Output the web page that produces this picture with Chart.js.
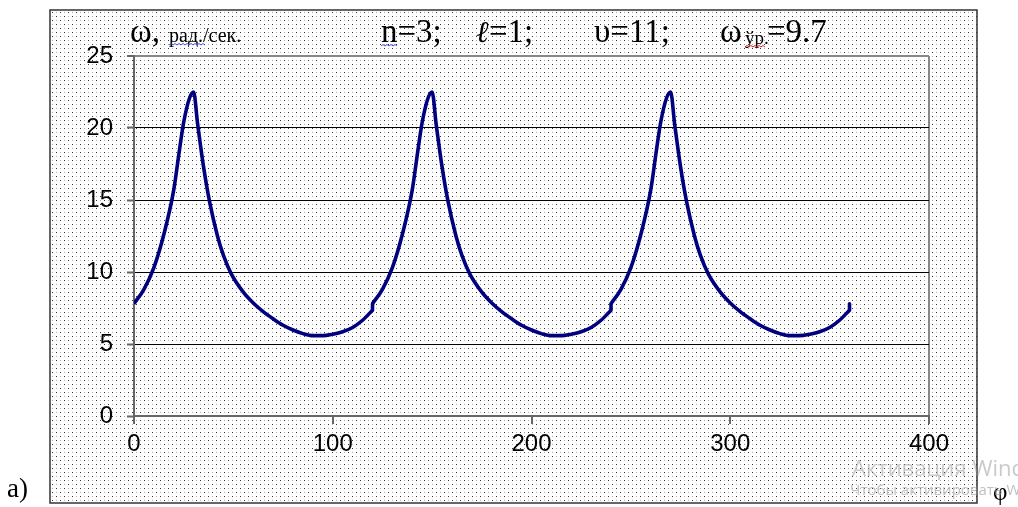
<!DOCTYPE html>
<html>
<head>
<meta charset="utf-8">
<script src="https://cdn.jsdelivr.net/npm/chart.js@4"></script>
<style>
  body { margin: 0; background: #fff; }
  #wrap { width: 1018px; height: 507px; position: relative; }
</style>
</head>
<body>
<div id="wrap"><canvas id="omegaChart"></canvas></div>
<script>
// angle of rotation, degrees (three identical 120-degree cycles)
const phi = [
  0, 5, 10, 15, 20, 23, 25, 28, 30, 32, 35, 38, 42, 45, 49, 55, 60, 65, 70, 75, 80, 85, 90, 95, 100, 105, 110, 115, 120,
  120, 125, 130, 135, 140, 143, 145, 148, 150, 152, 155, 158, 162, 165, 169, 175, 180, 185, 190, 195, 200, 205, 210, 215, 220, 225, 230, 235, 240,
  240, 245, 250, 255, 260, 263, 265, 268, 270, 272, 275, 278, 282, 285, 289, 295, 300, 305, 310, 315, 320, 325, 330, 335, 340, 345, 350, 355, 360,
  360
];
// angular velocity, rad/s
const omega = [
  7.8, 8.8, 10.3, 12.6, 15.7, 18.6, 20.4, 22.1, 22.5, 20.3, 17.3, 14.9, 12.5, 11.15, 9.85, 8.6, 7.85, 7.25, 6.75, 6.3, 5.97, 5.72, 5.58, 5.58, 5.68, 5.85, 6.15, 6.65, 7.35,
  7.8, 8.8, 10.3, 12.6, 15.7, 18.6, 20.4, 22.1, 22.5, 20.3, 17.3, 14.9, 12.5, 11.15, 9.85, 8.6, 7.85, 7.25, 6.75, 6.3, 5.97, 5.72, 5.58, 5.58, 5.68, 5.85, 6.15, 6.65, 7.35,
  7.8, 8.8, 10.3, 12.6, 15.7, 18.6, 20.4, 22.1, 22.5, 20.3, 17.3, 14.9, 12.5, 11.15, 9.85, 8.6, 7.85, 7.25, 6.75, 6.3, 5.97, 5.72, 5.58, 5.58, 5.68, 5.85, 6.15, 6.65, 7.35,
  7.8
];
const xTicks = [0, 100, 200, 300, 400];
const yTicks = [0, 5, 10, 15, 20, 25];

const points = phi.map((p, i) => ({ x: p, y: omega[i] }));
// split at the repeated angles: each cycle is smoothed on its own,
// the small jump between cycles is a straight step
const cycles = [];
let cur = [];
points.forEach((pt, i) => {
  if (i > 0 && pt.x === points[i - 1].x) { cycles.push(cur); cur = []; }
  cur.push(pt);
});
if (cur.length > 1) cycles.push(cur);
const steps = [];
for (let i = 1; i < points.length; i++) {
  if (points[i].x === points[i - 1].x) {
    steps.push(points[i - 1], points[i], { x: points[i].x, y: null });
  }
}

const navy = "#00007f";
const datasets = cycles.map(c => ({
  data: c,
  borderColor: navy,
  borderWidth: 3.6,
  pointRadius: 0,
  cubicInterpolationMode: "monotone",
  fill: false
}));
datasets.push({
  data: steps,
  borderColor: navy,
  borderWidth: 3.6,
  borderCapStyle: "round",
  pointRadius: 0,
  tension: 0,
  spanGaps: false,
  fill: false
});

// dotted fill like the Word chart background
function dotPattern(ctx) {
  const c = document.createElement("canvas");
  c.width = 8; c.height = 8;
  const g = c.getContext("2d");
  g.fillStyle = "#fff";
  g.fillRect(0, 0, 8, 8);
  g.fillStyle = "#333"; g.fillRect(0, 0, 1, 1); g.fillRect(4, 4, 1, 1);
  g.fillStyle = "#aaa"; g.fillRect(4, 0, 1, 1); g.fillRect(0, 4, 1, 1);
  return ctx.createPattern(c, "repeat");
}

function wavy(ctx, x0, x1, y, color) {
  ctx.save();
  ctx.strokeStyle = color;
  ctx.lineWidth = 1;
  ctx.beginPath();
  ctx.moveTo(x0, y);
  let up = true;
  for (let x = x0 + 2; x <= x1; x += 2) {
    ctx.lineTo(x, up ? y - 1.5 : y);
    up = !up;
  }
  ctx.stroke();
  ctx.restore();
}

const decor = {
  id: "decor",
  beforeDraw(chart) {
    const ctx = chart.ctx;
    ctx.save();
    ctx.fillStyle = "#fff";
    ctx.fillRect(0, 0, chart.width, chart.height);
    ctx.fillStyle = dotPattern(ctx);
    ctx.fillRect(50, 10, 927, 493);
    ctx.strokeStyle = "#333";
    ctx.lineWidth = 1.5;
    ctx.strokeRect(50, 10, 927, 493);
    ctx.restore();
  },
  afterDraw(chart) {
    const ctx = chart.ctx;
    ctx.save();
    ctx.fillStyle = "#000";
    ctx.textBaseline = "alphabetic";
    const big = "33px 'Liberation Serif', 'DejaVu Serif', serif";
    ctx.font = big; ctx.fillText("ω,", 130, 42);
    ctx.font = "20px 'Liberation Serif', serif"; ctx.fillText("рад./сек.", 169, 42);
    wavy(ctx, 169, 206, 45, "#4050d0");
    ctx.font = big;
    ctx.fillText("n=3;", 381, 42);
    wavy(ctx, 381, 398, 46, "#4050d0");
    ctx.font = "italic 30px 'DejaVu Serif', serif";
    ctx.fillText("ℓ", 476, 42);
    ctx.font = big;
    ctx.fillText("=1;", 489, 42);
    ctx.fillText("υ=11;", 594, 42);
    ctx.fillText("ω", 720, 42);
    ctx.font = "19px 'Liberation Serif', serif";
    ctx.fillText("ўр.", 745, 44);
    wavy(ctx, 745, 766, 47, "#e02020");
    ctx.font = big;
    ctx.fillText("=9.7", 767, 42);

    ctx.font = "27px 'Liberation Serif', serif";
    ctx.fillText("a)", 7, 497);
    ctx.font = "25px 'Liberation Serif', serif";
    ctx.fillText("φ", 993, 500);

    // screen watermark from the source screenshot
    ctx.fillStyle = "rgba(150,150,150,0.5)";
    ctx.font = "22px 'Open Sans', sans-serif";
    ctx.fillText("Активация Windows", 852, 476);
    ctx.fillStyle = "rgba(150,150,150,0.6)";
    ctx.font = "15px 'Open Sans', sans-serif";
    ctx.fillText("Чтобы активировать Windows", 850, 495);
    ctx.restore();
  }
};

const tickFont = { family: "'Liberation Sans', Arial, sans-serif", size: 24 };

new Chart(document.getElementById("omegaChart"), {
  type: "line",
  data: { datasets: datasets },
  options: {
    responsive: true,
    maintainAspectRatio: false,
    animation: false,
    layout: { padding: { left: 0, top: 56, right: 89, bottom: 0 } },
    plugins: {
      legend: { display: false },
      tooltip: { enabled: false }
    },
    scales: {
      x: {
        type: "linear",
        min: 0,
        max: 400,
        afterBuildTicks: s => { s.ticks = xTicks.map(v => ({ value: v })); },
        afterFit: s => { s.height = 91; },
        ticks: { font: tickFont, color: "#000", padding: 6, maxRotation: 0 },
        grid: {
          color: c => (c.tick && c.tick.value === 400) ? "#888" : "rgba(0,0,0,0)",
          lineWidth: 2,
          tickColor: "#666",
          tickWidth: 2,
          tickLength: 8
        },
        border: { color: "#666", width: 2 }
      },
      y: {
        min: 0,
        max: 25,
        afterBuildTicks: s => { s.ticks = yTicks.map(v => ({ value: v })); },
        afterFit: s => { s.width = 134; },
        ticks: { font: tickFont, color: "#000", padding: 14 },
        grid: {
          color: c => {
            const v = c.tick ? c.tick.value : null;
            if (v === 25) return "#888";
            if (v === 0) return "#666";
            return "#000";
          },
          lineWidth: c => (c.tick && c.tick.value === 25) ? 2 : 1,
          tickColor: "#666",
          tickWidth: 2,
          tickLength: 7
        },
        border: { color: "#666", width: 2 }
      }
    }
  },
  plugins: [decor]
});
</script>
</body>
</html>
